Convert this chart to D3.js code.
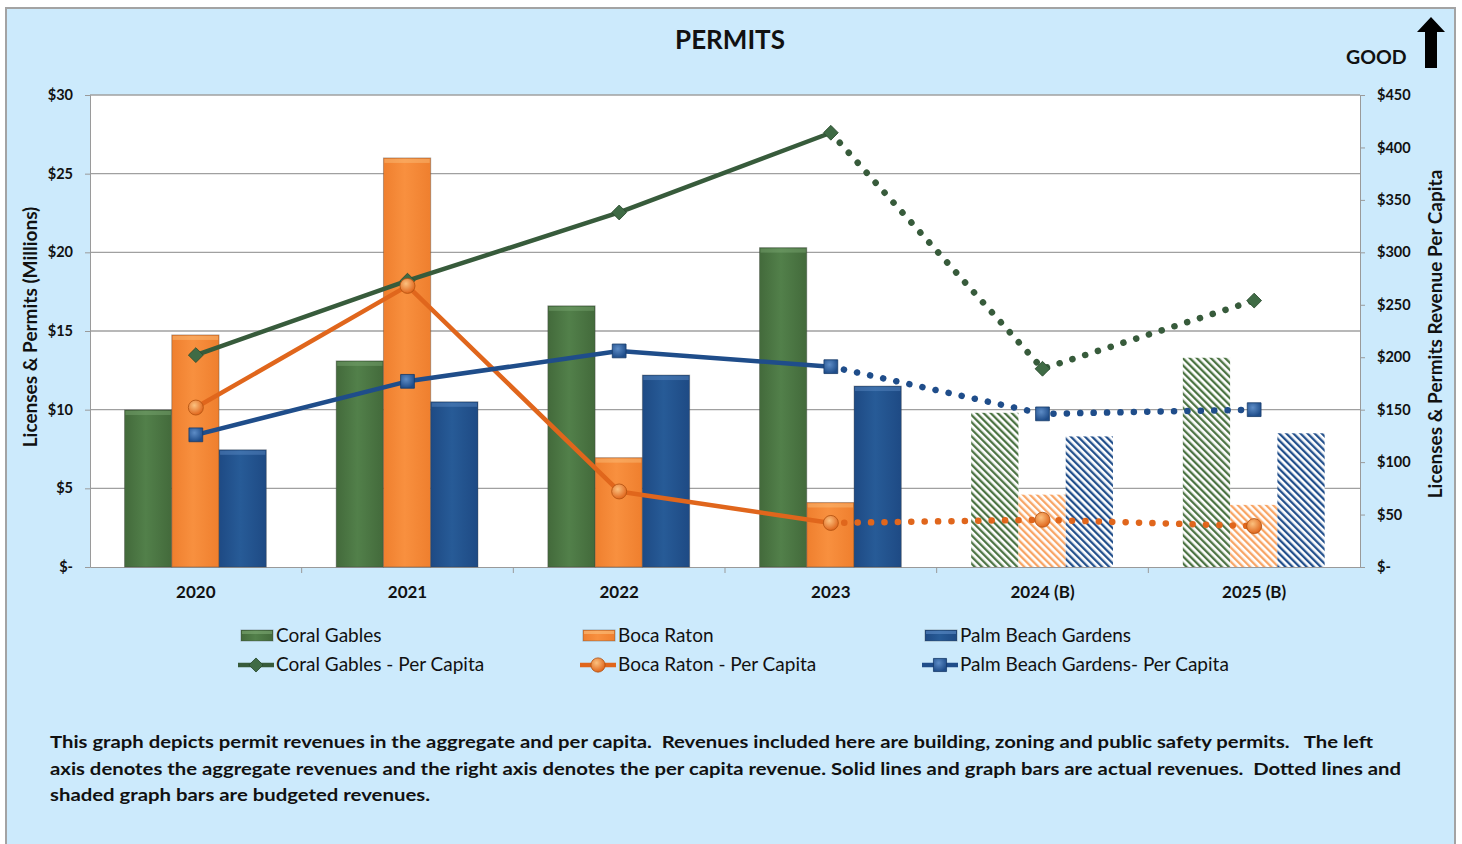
<!DOCTYPE html>
<html>
<head>
<meta charset="utf-8">
<script src="https://cdn.jsdelivr.net/npm/d3@7"></script>
<style>
  body { margin: 0; background: #ffffff; }
  svg text { font-family: Lato, "Open Sans", sans-serif; fill: #111; }
  .axis text { font-weight: 700; font-size: 14.5px; }
</style>
</head>
<body>
<svg id="chart" width="1462" height="844"></svg>
<script>
// chart data
const categories = ['2020', '2021', '2022', '2023', '2024 (B)', '2025 (B)'];
const budgeted = [false, false, false, false, true, true];

// aggregate revenue, millions (left axis)
const coralGables = [9.98, 13.1, 16.6, 20.3, 9.8, 13.3];
const bocaRaton = [14.75, 26.0, 6.95, 4.1, 4.6, 3.95];
const palmBeach = [7.45, 10.5, 12.2, 11.5, 8.3, 8.5];

// per capita revenue, dollars (right axis)
const coralPerCapita = [202, 273, 338, 414, 189, 254];
const bocaPerCapita = [152, 268, 72, 42, 45, 39];
const palmPerCapita = [126, 177, 206, 191, 146, 150];

const leftTicks = [0, 5, 10, 15, 20, 25, 30];
const rightTicks = [0, 50, 100, 150, 200, 250, 300, 350, 400, 450];

const barSeries = [
    {key: 'cg', name: 'Coral Gables', values: coralGables},
    {key: 'br', name: 'Boca Raton', values: bocaRaton},
    {key: 'pb', name: 'Palm Beach Gardens', values: palmBeach}
];
const lineSeries = [
    {key: 'cg', name: 'Coral Gables - Per Capita', values: coralPerCapita, marker: 'diamond'},
    {key: 'br', name: 'Boca Raton - Per Capita', values: bocaPerCapita, marker: 'circle'},
    {key: 'pb', name: 'Palm Beach Gardens- Per Capita', values: palmPerCapita, marker: 'square'}
];

const colors = {
    cg: {dark: '#436a3b', mid: '#52804a', light: '#7da873', line: '#375b3b', hatch: '#4d7444'},
    br: {dark: '#ef7f2e', mid: '#f8903f', light: '#fbc17f', line: '#e0661c', hatch: '#f8a565'},
    pb: {dark: '#1e4a84', mid: '#275b97', light: '#5d8cc6', line: '#1f4d8a', hatch: '#23508c'}
};

const svg = d3.select('#chart');

// frame
svg.append('rect')
    .attr('x', 6).attr('y', 8)
    .attr('width', 1449).attr('height', 850)
    .attr('fill', '#cceafc')
    .attr('stroke', '#a3a3a3')
    .attr('stroke-width', 2);

const defs = svg.append('defs');

// bar gradients + hatch patterns
Object.keys(colors).forEach(function(k) {
    var c = colors[k];
    var g = defs.append('linearGradient')
        .attr('id', 'grad-' + k)
        .attr('x1', 0).attr('x2', 1).attr('y1', 0).attr('y2', 0);
    g.append('stop').attr('offset', '0%').attr('stop-color', c.dark);
    g.append('stop').attr('offset', '45%').attr('stop-color', c.mid);
    g.append('stop').attr('offset', '100%').attr('stop-color', c.dark);

    var p = defs.append('pattern')
        .attr('id', 'hatch-' + k)
        .attr('patternUnits', 'userSpaceOnUse')
        .attr('width', 5).attr('height', 5)
        .attr('patternTransform', 'rotate(-45)');
    p.append('rect').attr('width', 5).attr('height', 5).attr('fill', '#ffffff');
    p.append('rect').attr('width', 2.3).attr('height', 5).attr('fill', c.hatch);

    var rg = defs.append('radialGradient')
        .attr('id', 'ball-' + k)
        .attr('cx', '40%').attr('cy', '35%').attr('r', '65%');
    rg.append('stop').attr('offset', '0%').attr('stop-color', c.light);
    rg.append('stop').attr('offset', '100%').attr('stop-color', c.line);
});

const margin = {top: 95, right: 102, bottom: 277, left: 90};
const plotLeft = margin.left, plotRight = 1462 - margin.right,
      plotTop = margin.top, plotBottom = 844 - margin.bottom;

const x = d3.scaleBand()
    .domain(categories)
    .range([plotLeft, plotRight]);

const bw = x.bandwidth();
const x1 = d3.scaleBand()
    .domain(barSeries.map(function(s) { return s.key; }))
    .range([bw * 0.163, bw * 0.833]);

const y = d3.scaleLinear().domain([0, 30]).range([plotBottom, plotTop]);
const y2 = d3.scaleLinear().domain([0, 450]).range([plotBottom, plotTop]);

// plot area
svg.append('rect')
    .attr('x', plotLeft).attr('y', plotTop)
    .attr('width', plotRight - plotLeft).attr('height', plotBottom - plotTop)
    .attr('fill', '#ffffff');

// gridlines
svg.append('g')
    .selectAll('line')
    .data(leftTicks.slice(1))
  .enter().append('line')
    .attr('x1', plotLeft).attr('x2', plotRight)
    .attr('y1', function(d) { return y(d); })
    .attr('y2', function(d) { return y(d); })
    .attr('stroke', '#a0a0a0')
    .attr('stroke-width', 1.3);

function money(d) { return d === 0 ? '$-' : '$' + d; }

// left axis
var leftAxis = svg.append('g')
    .attr('class', 'axis')
    .attr('transform', 'translate(' + plotLeft + ',0)')
    .call(d3.axisLeft(y).tickValues(leftTicks).tickFormat(money).tickSize(5).tickPadding(12));
leftAxis.selectAll('line, path').attr('stroke', '#9a9a9a');

// right axis
var rightAxis = svg.append('g')
    .attr('class', 'axis')
    .attr('transform', 'translate(' + plotRight + ',0)')
    .call(d3.axisRight(y2).tickValues(rightTicks).tickFormat(money).tickSize(5).tickPadding(12));
rightAxis.selectAll('line, path').attr('stroke', '#9a9a9a');

// bottom axis
var bottomAxis = svg.append('g')
    .attr('class', 'axis')
    .attr('transform', 'translate(0,' + plotBottom + ')')
    .call(d3.axisBottom(x).tickSize(0).tickPadding(19).tickSizeOuter(0));
bottomAxis.select('.domain').attr('stroke', '#9a9a9a');
bottomAxis.selectAll('text').style('font-size', '17px');
bottomAxis.selectAll('.boundary')
    .data(categories.slice(1))
  .enter().append('line')
    .attr('class', 'boundary')
    .attr('x1', function(d) { return x(d); })
    .attr('x2', function(d) { return x(d); })
    .attr('y1', 0).attr('y2', 6)
    .attr('stroke', '#9a9a9a');

// bars
var groups = svg.append('g').selectAll('g')
    .data(categories)
  .enter().append('g')
    .attr('transform', function(d) { return 'translate(' + x(d) + ',0)'; });

groups.each(function(cat, i) {
    var g = d3.select(this);
    barSeries.forEach(function(s) {
        var v = s.values[i];
        var bx = x1(s.key), by = y(v), bh = plotBottom - y(v), w = x1.bandwidth();
        if (budgeted[i]) {
            g.append('rect')
                .attr('x', bx).attr('y', by)
                .attr('width', w).attr('height', bh)
                .attr('fill', 'url(#hatch-' + s.key + ')');
        } else {
            g.append('rect')
                .attr('x', bx).attr('y', by)
                .attr('width', w).attr('height', bh)
                .attr('fill', 'url(#grad-' + s.key + ')')
                .attr('stroke', 'rgba(60,60,60,0.35)')
                .attr('stroke-width', 1);
            g.append('rect')
                .attr('x', bx + 1).attr('y', by + 1)
                .attr('width', w - 2).attr('height', 4)
                .attr('fill', colors[s.key].light)
                .attr('opacity', 0.45);
        }
    });
});

// per capita lines
var lastActual = budgeted.indexOf(true) - 1;
var line = d3.line()
    .x(function(d) { return x(d.cat) + bw / 2; })
    .y(function(d) { return y2(d.v); });

function drawMarker(sel, s, cx, cy, scale) {
    scale = scale || 1;
    if (s.marker === 'circle') {
        sel.append('circle')
            .attr('cx', cx).attr('cy', cy).attr('r', 7.5 * scale)
            .attr('fill', 'url(#ball-' + s.key + ')')
            .attr('stroke', '#b0510f').attr('stroke-width', 0.8);
    } else if (s.marker === 'diamond') {
        sel.append('path')
            .attr('d', d3.symbol().type(d3.symbolSquare).size(110 * scale * scale)())
            .attr('transform', 'translate(' + cx + ',' + cy + ') rotate(45)')
            .attr('fill', '#3f6b45')
            .attr('stroke', '#2a4a2e').attr('stroke-width', 0.8);
    } else {
        sel.append('path')
            .attr('d', d3.symbol().type(d3.symbolSquare).size(190 * scale * scale)())
            .attr('transform', 'translate(' + cx + ',' + cy + ')')
            .attr('fill', 'url(#ball-' + s.key + ')')
            .attr('stroke', '#173b6a').attr('stroke-width', 0.8);
    }
}

var lineLayer = svg.append('g');
lineSeries.forEach(function(s) {
    var pts = s.values.map(function(v, i) { return {cat: categories[i], v: v}; });
    lineLayer.append('path')
        .datum(pts.slice(0, lastActual + 1))
        .attr('d', line)
        .attr('fill', 'none')
        .attr('stroke', colors[s.key].line)
        .attr('stroke-width', 4.5)
        .attr('stroke-linejoin', 'round');
    lineLayer.append('path')
        .datum(pts.slice(lastActual))
        .attr('d', line)
        .attr('fill', 'none')
        .attr('stroke', colors[s.key].line)
        .attr('stroke-width', 6.5)
        .attr('stroke-linecap', 'round')
        .attr('stroke-dasharray', '0.1 13.3');
});
lineSeries.forEach(function(s) {
    s.values.forEach(function(v, i) {
        drawMarker(lineLayer, s, x(categories[i]) + bw / 2, y2(v));
    });
});

// titles
svg.append('text')
    .attr('x', 730).attr('y', 49)
    .attr('text-anchor', 'middle')
    .style('font-size', '26px').style('font-weight', 700)
    .text('PERMITS');

svg.append('text')
    .attr('x', 1346).attr('y', 64)
    .style('font-size', '19.5px').style('font-weight', 700)
    .text('GOOD');

svg.append('path')
    .attr('d', 'M1431,17 L1445,32 L1437,32 L1437,68 L1425,68 L1425,32 L1417,32 Z')
    .attr('fill', '#000');

svg.append('text')
    .attr('transform', 'translate(37,' + 327 + ') rotate(-90)')
    .attr('text-anchor', 'middle')
    .style('font-size', '19px').style('font-weight', 700)
    .text('Licenses & Permits (Millions)');

svg.append('text')
    .attr('transform', 'translate(1442,' + 334 + ') rotate(-90)')
    .attr('text-anchor', 'middle')
    .style('font-size', '19px').style('font-weight', 700)
    .text('Licenses & Permits Revenue Per Capita');

// legend
var legendX = [241, 583, 925];
var legend = svg.append('g');
barSeries.forEach(function(s, i) {
    var lx = legendX[i];
    legend.append('rect')
        .attr('x', lx).attr('y', 630)
        .attr('width', 32).attr('height', 11)
        .attr('fill', 'url(#grad-' + s.key + ')')
        .attr('stroke', 'rgba(60,60,60,0.35)');
    legend.append('rect')
        .attr('x', lx + 1).attr('y', 631)
        .attr('width', 30).attr('height', 3)
        .attr('fill', colors[s.key].light).attr('opacity', 0.6);
    legend.append('text')
        .attr('x', lx + 35).attr('y', 642)
        .style('font-size', '19px')
        .text(s.name);
});
lineSeries.forEach(function(s, i) {
    var lx = legendX[i];
    legend.append('line')
        .attr('x1', lx - 3).attr('x2', lx + 33)
        .attr('y1', 665).attr('y2', 665)
        .attr('stroke', colors[s.key].line)
        .attr('stroke-width', 4.5);
    drawMarker(legend, s, lx + 15, 665, 0.95);
    legend.append('text')
        .attr('x', lx + 35).attr('y', 671)
        .style('font-size', '19px')
        .text(s.name);
});

// note
var note = [
    {t: 'This graph depicts permit revenues in the aggregate and per capita.  Revenues included here are building, zoning and public safety permits.   The left', w: 1323},
    {t: 'axis denotes the aggregate revenues and the right axis denotes the per capita revenue. Solid lines and graph bars are actual revenues.  Dotted lines and', w: 1351},
    {t: 'shaded graph bars are budgeted revenues.', w: 380}
];
svg.append('g').selectAll('text')
    .data(note)
  .enter().append('text')
    .attr('x', 50)
    .attr('y', function(d, i) { return 748 + i * 26.5; })
    .attr('textLength', function(d) { return d.w; })
    .attr('lengthAdjust', 'spacingAndGlyphs')
    .style('font-size', '17.5px').style('font-weight', 700)
    .style('white-space', 'pre')
    .text(function(d) { return d.t; });
</script>
</body>
</html>
